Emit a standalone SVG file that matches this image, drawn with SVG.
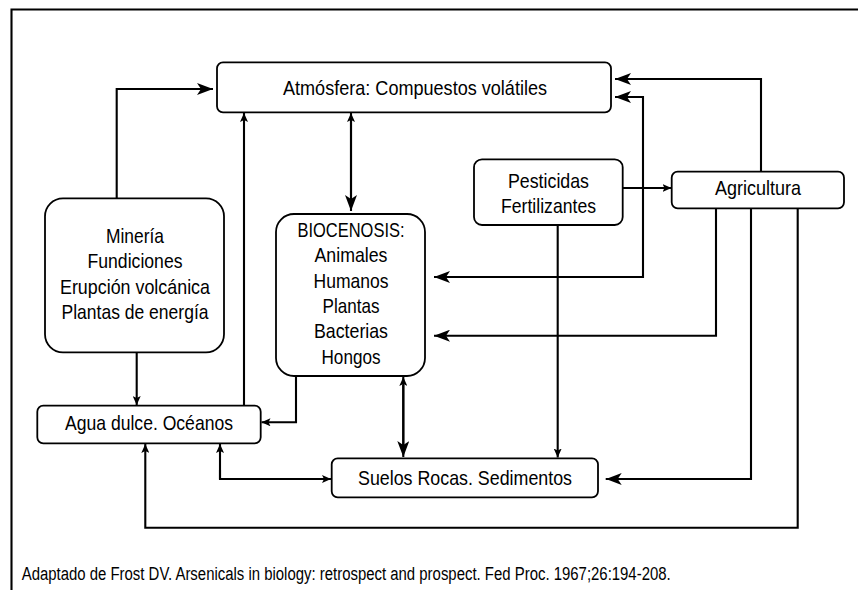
<svg xmlns="http://www.w3.org/2000/svg" width="858" height="590" viewBox="0 0 858 590">
<style>
.box{fill:#fff;stroke:#000;stroke-width:1.8}
.ln{fill:none;stroke:#000;stroke-width:2.1}
text{font-family:"Liberation Sans",Arial,sans-serif;font-size:21px;fill:#000;text-anchor:middle}
.foot{font-size:18px;text-anchor:start}
</style>
<defs>
<marker id="big" markerUnits="userSpaceOnUse" markerWidth="16" markerHeight="12" refX="16" refY="6" orient="auto" viewBox="0 0 16 12"><path d="M0,0 L16,6 L0,12 L4,6 Z" fill="#000"/></marker>
<marker id="small" markerUnits="userSpaceOnUse" markerWidth="9" markerHeight="8" refX="9" refY="4" orient="auto" viewBox="0 0 9 8"><path d="M0,0 L9,4 L0,8 L2,4 Z" fill="#000"/></marker>
</defs>
<rect width="858" height="590" fill="#fff"/>
<path class="ln" d="M11.5,590 V9.5 H858" stroke-width="1.5"/>
<g id="connectors">
<path class="ln" d="M116.7,198 V89 H213" marker-end="url(#big)"/>
<path class="ln" d="M244,405.7 V113" marker-end="url(#small)"/>
<path class="ln" d="M351,207 V113" marker-end="url(#small)"/>
<path class="ln" d="M351,120 V211" marker-end="url(#big)"/>
<path class="ln" d="M761,171.7 V79 H615" marker-end="url(#big)"/>
<path class="ln" d="M643,188 V97 H615" marker-end="url(#big)"/>
<path class="ln" d="M643,188 V277 H434" marker-end="url(#big)"/>
<path class="ln" d="M622.7,188 H671.5" marker-end="url(#small)"/>
<path class="ln" d="M716,208.3 V335.7 H434" marker-end="url(#big)"/>
<path class="ln" d="M751,208.3 V479 H605.7" marker-end="url(#big)"/>
<path class="ln" d="M797.7,208.3 V527.7 H145.3 V444" marker-end="url(#small)"/>
<path class="ln" d="M557.7,225 V457.5" marker-end="url(#small)"/>
<path class="ln" d="M136.7,352.3 V405" marker-end="url(#small)"/>
<path class="ln" d="M296,376 V422.3 H261.5" marker-end="url(#small)"/>
<path class="ln" d="M403.3,450 V377" marker-end="url(#small)"/>
<path class="ln" d="M403.3,385 V457" marker-end="url(#big)"/>
<path class="ln" d="M220,470 V479 H331" marker-end="url(#small)"/>
<path class="ln" d="M220,479 V444" marker-end="url(#small)"/>
</g>
<g id="atmosfera">
<rect class="box" x="217" y="62.3" width="394" height="50" rx="6"/>
<text x="415" y="95" textLength="264" lengthAdjust="spacingAndGlyphs">Atmósfera: Compuestos volátiles</text>
</g>
<g id="mineria">
<rect class="box" x="45" y="198.3" width="179" height="154" rx="18"/>
<text x="135" y="242.7" textLength="58" lengthAdjust="spacingAndGlyphs">Minería</text>
<text x="135" y="268.2" textLength="95" lengthAdjust="spacingAndGlyphs">Fundiciones</text>
<text x="135" y="293.7" textLength="150" lengthAdjust="spacingAndGlyphs">Erupción volcánica</text>
<text x="135" y="319" textLength="147" lengthAdjust="spacingAndGlyphs">Plantas de energía</text>
</g>
<g id="biocenosis">
<rect class="box" x="276" y="214" width="149" height="162" rx="18"/>
<text x="351" y="236.7" textLength="107" lengthAdjust="spacingAndGlyphs">BIOCENOSIS:</text>
<text x="351" y="262.2" textLength="73" lengthAdjust="spacingAndGlyphs">Animales</text>
<text x="351" y="287.7" textLength="75" lengthAdjust="spacingAndGlyphs">Humanos</text>
<text x="351" y="313" textLength="57" lengthAdjust="spacingAndGlyphs">Plantas</text>
<text x="351" y="338.3" textLength="74" lengthAdjust="spacingAndGlyphs">Bacterias</text>
<text x="351" y="363.5" textLength="59" lengthAdjust="spacingAndGlyphs">Hongos</text>
</g>
<g id="pesticidas">
<rect class="box" x="474" y="159.3" width="148.7" height="65.7" rx="8"/>
<text x="548.5" y="188.3" textLength="81" lengthAdjust="spacingAndGlyphs">Pesticidas</text>
<text x="548.5" y="212.7" textLength="95" lengthAdjust="spacingAndGlyphs">Fertilizantes</text>
</g>
<g id="agricultura">
<rect class="box" x="671.7" y="171.7" width="172.3" height="36.6" rx="6"/>
<text x="758" y="195" textLength="86" lengthAdjust="spacingAndGlyphs">Agricultura</text>
</g>
<g id="agua">
<rect class="box" x="37.3" y="405.7" width="223.4" height="37.6" rx="6"/>
<text x="149" y="430" textLength="168" lengthAdjust="spacingAndGlyphs">Agua dulce. Océanos</text>
</g>
<g id="suelos">
<rect class="box" x="331.7" y="458.3" width="266.3" height="39" rx="6"/>
<text x="465" y="485" textLength="214" lengthAdjust="spacingAndGlyphs">Suelos Rocas. Sedimentos</text>
</g>
<text class="foot" x="21.7" y="580" textLength="649" lengthAdjust="spacingAndGlyphs">Adaptado de Frost DV. Arsenicals in biology: retrospect and prospect. Fed Proc. 1967;26:194-208.</text>
</svg>
